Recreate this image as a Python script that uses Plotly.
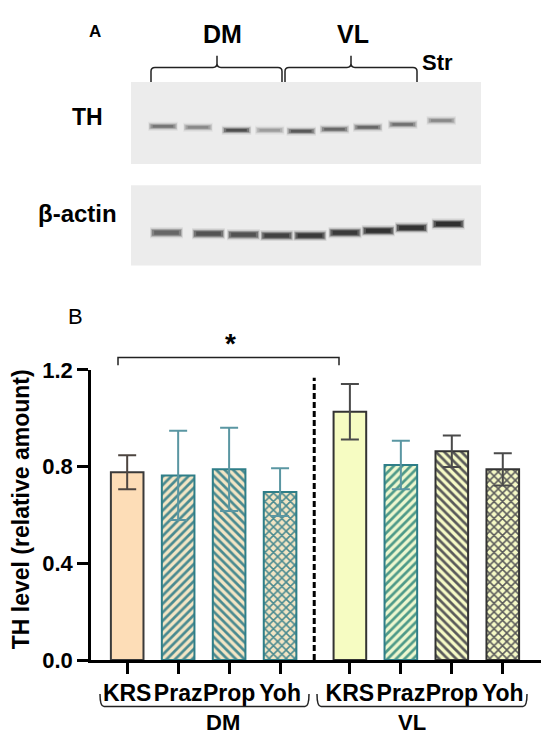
import plotly.graph_objects as go

W, H = 550, 754
OFF = 8  # page body margin in the screenshot

# ---------------- data: panel B ----------------
groups = ["DM", "VL"]
treatments = ["KRS", "Praz", "Prop", "Yoh"]
means = [0.777, 0.764, 0.789, 0.695, 1.027, 0.807, 0.864, 0.789]
sems = [0.070, 0.185, 0.172, 0.099, 0.115, 0.100, 0.065, 0.067]
x_pos = [0, 1, 2, 3, 4.37, 5.37, 6.37, 7.37]
y_ticks = [0.0, 0.4, 0.8, 1.2]

# ---------------- data: panel A (blot) ----------------
th_lane_x = [1.0, 2.0, 3.1, 4.05, 4.95, 5.9, 6.85, 7.85, 8.95]
th_band_y = [118, 119, 122, 122, 123, 121, 119, 116, 112]
th_intensity = [0.55, 0.45, 0.75, 0.35, 0.70, 0.62, 0.62, 0.58, 0.45]
actin_lane_x = [1.1, 2.3, 3.3, 4.25, 5.2, 6.2, 7.15, 8.1, 9.15]
actin_band_y = [228, 229, 230, 231, 231, 228, 226, 223, 219]
actin_intensity = [0.62, 0.72, 0.72, 0.80, 0.85, 0.85, 0.88, 0.88, 0.90]

# ---------------- styles ----------------
FONT = "Arial, Liberation Sans, sans-serif"
fills = ["#FDDDB7", "#F3E5C4", "#F3E5C4", "#F3E5C4",
         "#F6FCC2", "#EDF7CF", "#F6FAC6", "#F6FAC6"]
pat_shapes = ["", "/", "\\", "x", "", "/", "\\", "x"]
pat_fg = ["#000000", "#4A8A90", "#4A8A90", "#4A8A90",
          "#000000", "#4E9A88", "#5A5A5A", "#5A5A5A"]
outlines = ["#3A3A3A", "#2F7E88", "#2F7E88", "#2F7E88",
            "#333333", "#2F7E88", "#333333", "#333333"]
err_cols = ["#4D4540", "#5A96A2", "#5A96A2", "#5A96A2",
            "#4A4A4A", "#5A96A2", "#4A4A4A", "#4A4A4A"]


def PX(x):
    return (x - OFF) / W


def PY(y):
    return 1 - (y - OFF) / H


def path(cmds):
    out = []
    for c in cmds:
        if isinstance(c, str):
            out.append(c)
        else:
            out.append(f"{PX(c[0]):.5f},{PY(c[1]):.5f}")
    return " ".join(out)


fig = go.Figure()

# ---- bars ----
labels = [t for g in groups for t in treatments]
for i, (xp, m, s) in enumerate(zip(x_pos, means, sems)):
    pattern = dict(shape=pat_shapes[i], fillmode="replace", bgcolor=fills[i],
                   fgcolor=pat_fg[i], size=6, solidity=0.45)
    fig.add_trace(go.Bar(
        x=[xp], y=[m], width=0.64,
        marker=dict(color=fills[i], pattern=pattern,
                    line=dict(color=outlines[i], width=2)),
        error_y=dict(type="data", array=[s], visible=True, color=err_cols[i],
                     thickness=2, width=9),
        showlegend=False, hoverinfo="skip", xaxis="x", yaxis="y"))


# ---- blot bands (soft edges: wide faint layers, narrower dark cores) ----
def add_bands(lx, by, inten, hw, layers):
    for x, y, v in zip(lx, by, inten):
        g = int(225 - 200 * v)
        col = f"rgb({g},{g},{g})"
        for wdt, op, frac in layers:
            fig.add_trace(go.Scatter(
                x=[x - hw * frac, x + hw * frac], y=[y, y], mode="lines",
                line=dict(color=col, width=wdt), opacity=op,
                showlegend=False, hoverinfo="skip", xaxis="x2", yaxis="y2"))


add_bands(th_lane_x, th_band_y, th_intensity, 0.42,
          [(9, 0.10, 1.0), (6, 0.30, 0.95), (4, 0.55, 0.85), (2.5, 0.9, 0.7)])
add_bands(actin_lane_x, actin_band_y, actin_intensity, 0.47,
          [(11, 0.12, 1.0), (8, 0.35, 0.95), (6, 0.6, 0.88), (4, 0.95, 0.75)])

shapes = []
# membranes
for (y0, y1) in [(72, 157), (179, 262)]:
    shapes.append(dict(type="rect", xref="paper", yref="paper",
                       x0=PX(131), x1=PX(481), y0=PY(y1), y1=PY(y0),
                       fillcolor="#ECECEC", line=dict(width=0), layer="below"))

# curly brackets above blot
for (a, c, b) in [(151, 217, 282), (285, 351, 417)]:
    shapes.append(dict(type="path", xref="paper", yref="paper",
                       path=path(["M", (a, 72), "L", (a, 61), "Q", (a, 57), (a + 4, 57),
                                  "L", (c - 4, 57), "Q", (c, 57), (c, 53), "L", (c, 45),
                                  "M", (c, 53), "Q", (c, 57), (c + 4, 57),
                                  "L", (b - 4, 57), "Q", (b, 57), (b, 61), "L", (b, 72)]),
                       line=dict(color="#222222", width=1.5)))

# significance bracket
shapes.append(dict(type="path", xref="paper", yref="paper",
                   path=path(["M", (118, 365), "L", (118, 357), "L", (339, 357), "L", (339, 365)]),
                   line=dict(color="#222222", width=1.5)))

# group brackets under axis
for (a, b) in [(100, 309), (317, 527)]:
    shapes.append(dict(type="path", xref="paper", yref="paper",
                       path=path(["M", (a, 705), "Q", (a, 718), (a + 4, 718),
                                  "L", (b - 4, 718), "Q", (b, 718), (b, 705)]),
                       line=dict(color="#222222", width=1.5)))

# dashed separator
shapes.append(dict(type="line", xref="x", yref="y", x0=3.67, x1=3.67, y0=0, y1=1.168,
                   line=dict(color="black", width=3, dash="6px,3px")))

ann = []


def txt(x, y, s, size, bold=True, angle=0):
    ann.append(dict(x=PX(x), y=PY(y), xref="paper", yref="paper", text=s,
                    showarrow=False, textangle=angle,
                    font=dict(family=FONT, size=size, color="black",
                              weight="bold" if bold else "normal"),
                    xanchor="center", yanchor="middle"))


txt(95, 20, "A", 17)
txt(222, 22, "DM", 25)
txt(353, 22, "VL", 25)
txt(437, 52, "Str", 22)
txt(87, 108, "TH", 23)
txt(77, 208, "β-actin", 24)
txt(75, 315, "B", 22, bold=False)
txt(230, 343, "*", 28)
txt(223, 735, "DM", 22)
txt(412, 735, "VL", 22)
txt(21, 514, "TH level (relative amount)", 23, angle=-90)

fig.update_layout(
    width=W, height=H, margin=dict(l=0, r=0, t=0, b=0),
    paper_bgcolor="white", plot_bgcolor="rgba(0,0,0,0)",
    barmode="overlay", showlegend=False,
    shapes=shapes, annotations=ann,
    font=dict(family=FONT, color="black"),
    xaxis=dict(domain=[PX(91), PX(541)], range=[-0.71, 8.12], anchor="y",
               tickvals=x_pos, ticktext=labels, tickangle=0,
               showline=True, linewidth=2.5, linecolor="black",
               ticks="outside", ticklen=11, tickwidth=2.5, tickcolor="black",
               showgrid=False, zeroline=False,
               tickfont=dict(family=FONT, size=23, color="black", weight="bold")),
    yaxis=dict(domain=[PY(670), PY(370)], range=[0, 1.2], anchor="x",
               tickvals=y_ticks, tickformat=".1f",
               showline=True, linewidth=2.5, linecolor="black",
               ticks="outside", ticklen=11, tickwidth=2.5, tickcolor="black",
               showgrid=False, zeroline=False,
               tickfont=dict(family=FONT, size=22, color="black", weight="bold")),
    xaxis2=dict(domain=[0, 1], range=[(OFF - 128) / 35, (OFF + W - 128) / 35], anchor="y2",
                visible=False, fixedrange=True),
    yaxis2=dict(domain=[0, 1], range=[H + OFF, OFF], anchor="x2", visible=False,
                fixedrange=True),
)

fig.write_html("out.html")
